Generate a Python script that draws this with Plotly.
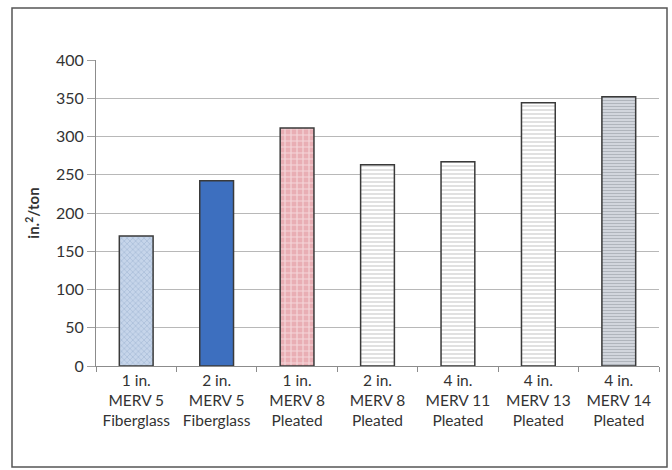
import plotly.graph_objects as go

# Filter types and their values (in.²/ton)
categories = [
    "1 in.<br>MERV 5<br>Fiberglass",
    "2 in.<br>MERV 5<br>Fiberglass",
    "1 in.<br>MERV 8<br>Pleated",
    "2 in.<br>MERV 8<br>Pleated",
    "4 in.<br>MERV 11<br>Pleated",
    "4 in.<br>MERV 13<br>Pleated",
    "4 in.<br>MERV 14<br>Pleated",
]
values = [170, 242, 311, 263, 267, 344, 352]
y_ticks = [0, 50, 100, 150, 200, 250, 300, 350, 400]

# Per-bar fill styles: background colour, pattern colour, pattern shape, size
bg_colors = ["#c6d5ea", "#3d6fbf", "#e9aeb4", "#ffffff", "#ffffff", "#ffffff", "#d2d6dd"]
fg_colors = ["#8fa8c8", "#3d6fbf", "#ffffff", "#a8a8a8", "#a8a8a8", "#a8a8a8", "#8e939b"]
shapes = ["x", "", "+", "-", "-", "-", "-"]
sizes = [4, 4, 6, 4, 4, 4, 3]

FONT = "Lato, 'Open Sans', sans-serif"

fig = go.Figure()
for cat, val, bg, fg, shp, sz in zip(categories, values, bg_colors, fg_colors, shapes, sizes):
    fig.add_trace(
        go.Bar(
            x=[cat],
            y=[val],
            width=0.42,
            marker=dict(
                color=bg,
                line=dict(color="#3a3a3a", width=1.5),
                pattern=dict(shape=shp, fgcolor=fg, size=sz, solidity=0.35, fillmode="overlay"),
            ),
            hoverinfo="skip",
        )
    )

L, R, T, B = 96, 13, 60, 104
W, H = 672, 470
pw, ph = W - L - R, H - T - B

def px_x(px):
    return (px - L) / pw

def px_y(py):
    return (H - B - py) / ph

# Outer chart frame
fig.add_shape(
    type="rect", xref="paper", yref="paper",
    x0=px_x(12), x1=px_x(667), y0=px_y(467), y1=px_y(8),
    line=dict(color="#555555", width=1.5), fillcolor="rgba(0,0,0,0)",
    layer="below",
)

fig.update_layout(
    width=W, height=H,
    margin=dict(l=L, r=R, t=T, b=B),
    paper_bgcolor="white", plot_bgcolor="white",
    showlegend=False,
    barmode="overlay",
    font=dict(family=FONT, color="#333333", size=15),
    xaxis=dict(
        categoryorder="array", categoryarray=categories,
        showline=True, linecolor="#8c8c8c", linewidth=1,
        ticks="outside", ticklen=5, tickcolor="#8c8c8c",
        tickson="boundaries",
        tickfont=dict(size=15.5, color="#333333"),
        showgrid=False,
    ),
    yaxis=dict(
        range=[0, 400], tickvals=y_ticks,
        showline=True, linecolor="#8c8c8c", linewidth=1,
        ticks="outside", ticklen=8, tickcolor="#a0a0a0",
        showgrid=True, gridcolor="#b8b8b8", gridwidth=1,
        zeroline=False,
        tickfont=dict(size=16, color="#333333"),
        title=dict(text="<b>in.<sup>2</sup>/ton</b>", font=dict(size=15, color="#333333"), standoff=12),
    ),
)

fig.write_html("out.html")
